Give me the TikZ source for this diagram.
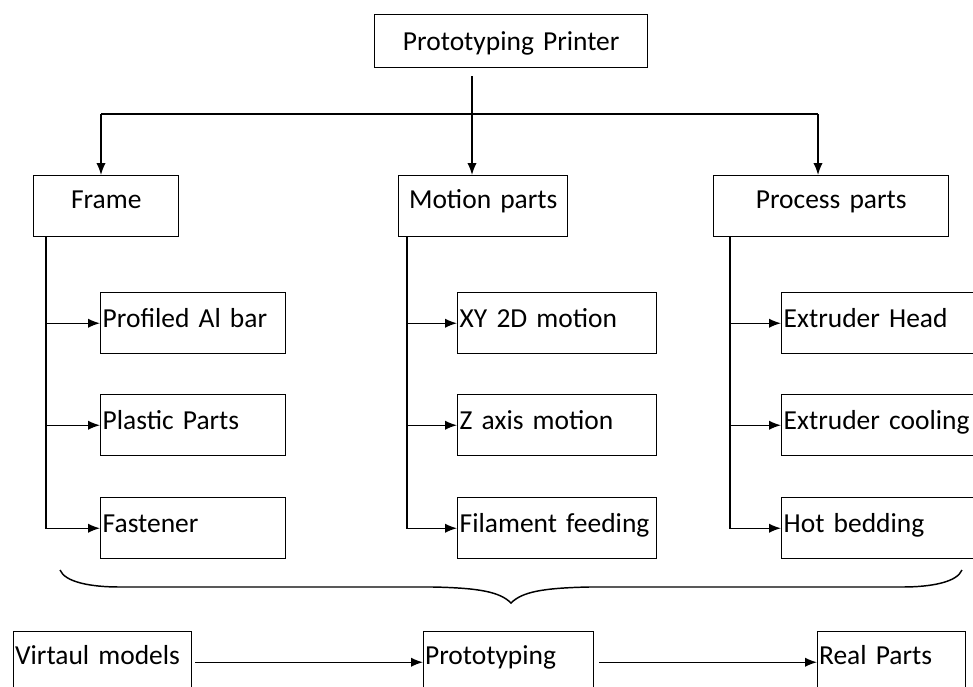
\documentclass[tikz,border=0pt]{standalone}
\usepackage{fontspec}
\setmainfont{Carlito}
\usetikzlibrary{arrows.meta,calc}
\begin{document}
\begin{tikzpicture}[x=0.75pt,y=-0.75pt,
  font=\fontsize{20.6pt}{24pt}\selectfont,
  ln/.style={line width=1.1pt,draw=black},
  arr/.style={ln,-{Latex[length=9pt,width=7pt]}},
  boxbase/.style={draw=black,line width=1.1pt,rectangle,anchor=north west,inner ysep=0pt},
  topbox/.style={boxbase,inner xsep=0pt,text height=24.75pt,text depth=21pt,align=center},
  childbox/.style={boxbase,inner xsep=1.5pt,text height=26.25pt,text depth=19.5pt,align=left},
  bottombox/.style={boxbase,inner xsep=1pt,text height=24.75pt,text depth=21pt,align=left}
]
\useasboundingbox (0,0) rectangle (973,686);
\clip (0,0) rectangle (973,686);

% top
\node[boxbase,inner xsep=0pt,text height=27pt,text depth=12.75pt,align=center,text width=204.75pt] (top) at (374,14) {Prototyping Printer};

% level 1
\node[topbox,text width=108.75pt] (frame) at (33,175) {Frame};
\node[topbox,text width=126.75pt] (motion) at (398,175) {Motion parts};
\node[topbox,text width=176.25pt] (process) at (713,175) {Process parts};

% children
\node[childbox,text width=135.75pt] (f1) at (100,292) {Profiled Al bar};
\node[childbox,text width=135.75pt] (f2) at (100,394) {Plastic Parts};
\node[childbox,text width=135.75pt] (f3) at (100,497) {Fastener};
\node[childbox,text width=146pt] (m1) at (457,292) {XY 2D motion};
\node[childbox,text width=146pt] (m2) at (457,394) {Z axis motion};
\node[childbox,text width=146pt] (m3) at (457,497) {\mbox{Filament feeding}};
\node[childbox,text width=146pt] (p1) at (781,292) {Extruder Head};
\node[childbox,text width=146pt] (p2) at (781,394) {\mbox{Extruder cooling}};
\node[childbox,text width=146pt] (p3) at (781,497) {Hot bedding};

% bottom
\node[bottombox,text width=131.5pt] (vm) at (13,631) {Virtaul models};
\node[bottombox,text width=125.25pt] (pr) at (423,631) {Prototyping};
\node[bottombox,text width=108.75pt] (rp) at (817,631) {Real Parts};

% top connectors
\coordinate (t0) at (472,76);
\coordinate (hl) at (101,114);
\coordinate (hr) at (818,114);
\draw[arr] (t0) -- (t0 |- motion.north);
\draw[ln] (hl) -- (hr);
\draw[arr] (hl) -- (hl |- frame.north);
\draw[arr] (hr) -- (hr |- process.north);

% column connectors
\coordinate (fl) at (46,236);
\coordinate (ml) at (407,236);
\coordinate (pl) at (730,236);
\foreach \c in {f1,f2,f3} \draw[arr] (fl) |- (\c.west);
\foreach \c in {m1,m2,m3} \draw[arr] (ml) |- (\c.west);
\foreach \c in {p1,p2,p3} \draw[arr] (pl) |- (\c.west);

% brace
\draw[line width=1.1pt] (60,570) .. controls (65,582) and (90,587) .. (120,587) -- (433,587)
  .. controls (480,588) and (500,592) .. (511,603)
  .. controls (522,592) and (542,588) .. (589,587) -- (902,587)
  .. controls (932,587) and (957,582) .. (962,570);

% bottom arrows
\draw[arr] ($(vm.east)+(3,0)$) -- (pr.west);
\draw[arr] ($(pr.east)+(5,0)$) -- (rp.west);
\end{tikzpicture}
\end{document}
